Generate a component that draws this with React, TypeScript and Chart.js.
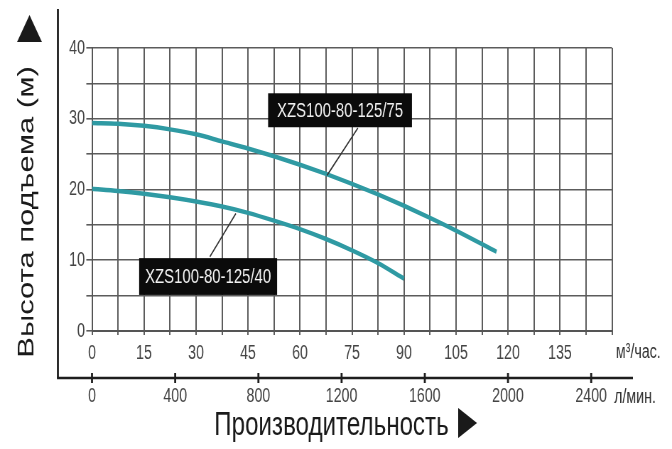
import { useEffect, useRef } from 'react';
import { Chart, registerables } from 'chart.js';

Chart.register(...registerables);

// ---- data ----
const flow75 = [0, 7.5, 15, 22.5, 30, 37.5, 45, 52.5, 60, 67.5, 75, 82.5, 90, 97.5, 105, 116.7];
const head75 = [29.4, 29.3, 29.0, 28.5, 27.8, 26.8, 25.8, 24.7, 23.5, 22.2, 20.8, 19.3, 17.7, 16.0, 14.2, 11.2];
const flow40 = [0, 7.5, 15, 22.5, 30, 37.5, 45, 52.5, 60, 67.5, 75, 82.5, 90];
const head40 = [20.1, 19.8, 19.4, 18.9, 18.3, 17.6, 16.7, 15.6, 14.4, 13.0, 11.4, 9.6, 7.4];
const seriesNames = ['XZS100-80-125/75', 'XZS100-80-125/40'];
const lMinTicks = [0, 400, 800, 1200, 1600, 2000, 2400];
const yTitle = 'Высота подъема (м)';
const xTitle = 'Производительность';
const unitM3 = 'м³/час.';
const unitLmin = 'л/мин.';
const xMaxM3h = 150;
const lPerMinPerM3h = 1000 / 60;

// ---- layout / style (not data) ----
const W = 946;
const H = 449;
const S = 672 / W;
const FONT = '"Liberation Sans", Arial, sans-serif';
const CURVE = '#2f9aa3';
const GRID = '#5c5c5c';

const annotations = [
  { text: seriesNames[0], box: [50.8, 92.3, 33.6, 28.8], lead: [76.7, 28.7], tip: [67.8, 22.0] },
  { text: seriesNames[1], box: [13.6, 53.4, 10.3, 5.1], lead: [34.0, 10.5], tip: [41.5, 16.6] },
];

const decorPlugin = {
  id: 'decor',
  afterDatasetsDraw(chart: any) {
    const { ctx, scales } = chart;
    const x = scales.x;
    const y = scales.y;
    ctx.save();
    for (const a of annotations) {
      ctx.strokeStyle = '#333';
      ctx.lineWidth = 1.6;
      ctx.beginPath();
      ctx.moveTo(x.getPixelForValue(a.lead[0]), y.getPixelForValue(a.lead[1]));
      ctx.lineTo(x.getPixelForValue(a.tip[0]), y.getPixelForValue(a.tip[1]));
      ctx.stroke();
      const l = x.getPixelForValue(a.box[0]);
      const r = x.getPixelForValue(a.box[1]);
      const t = y.getPixelForValue(a.box[2]);
      const b = y.getPixelForValue(a.box[3]);
      ctx.fillStyle = '#0b0b0b';
      ctx.fillRect(l, t, r - l, b - t);
      ctx.fillStyle = '#f2f2f2';
      ctx.font = '21px ' + FONT;
      ctx.textAlign = 'center';
      ctx.textBaseline = 'middle';
      ctx.fillText(a.text, (l + r) / 2, (t + b) / 2 + 1);
    }
    ctx.restore();
  },
  afterDraw(chart: any) {
    const { ctx, chartArea, scales } = chart;
    const x2 = scales.x2;
    ctx.save();
    const frameLeft = chartArea.left - 48;
    const frameRight = chartArea.right + 29.5;
    const baseY = x2.top;
    ctx.strokeStyle = '#1e1e1e';
    // left vertical frame line
    ctx.lineWidth = 2.8;
    ctx.beginPath();
    ctx.moveTo(frameLeft, 9);
    ctx.lineTo(frameLeft, baseY);
    ctx.stroke();
    // bottom (л/мин) axis line
    ctx.lineWidth = 2.6;
    ctx.beginPath();
    ctx.moveTo(frameLeft - 1.4, baseY);
    ctx.lineTo(frameRight, baseY);
    ctx.stroke();
    // tick marks on л/мин axis
    ctx.lineWidth = 2.8;
    for (const t of x2.ticks) {
      const px = x2.getPixelForValue(t.value);
      ctx.beginPath();
      ctx.moveTo(px, baseY - 5);
      ctx.lineTo(px, baseY + 5);
      ctx.stroke();
    }
    // unit labels
    ctx.fillStyle = '#333';
    ctx.font = '20px ' + FONT;
    ctx.textAlign = 'left';
    ctx.textBaseline = 'alphabetic';
    ctx.fillText(unitM3, chartArea.right + 5.5, 358);
    ctx.fillText(unitLmin, chartArea.right + 3, 403);
    // x title
    ctx.fillStyle = '#1a1a1a';
    ctx.font = '34px ' + FONT;
    ctx.textAlign = 'center';
    ctx.fillText(xTitle, 466.6, 435);
    // right triangle
    ctx.beginPath();
    ctx.moveTo(645, 408);
    ctx.lineTo(645, 438);
    ctx.lineTo(671.5, 423);
    ctx.closePath();
    ctx.fill();
    // y title (rotated)
    ctx.save();
    ctx.translate(46.5, 212);
    ctx.rotate(-Math.PI / 2);
    ctx.font = '31px ' + FONT;
    ctx.textAlign = 'center';
    ctx.textBaseline = 'alphabetic';
    ctx.fillText(yTitle, 0, 0);
    ctx.restore();
    // up triangle
    ctx.beginPath();
    ctx.moveTo(41.5, 15);
    ctx.lineTo(59, 42);
    ctx.lineTo(24, 42);
    ctx.closePath();
    ctx.fill();
    ctx.restore();
  },
};

function App() {
  const ref = useRef<HTMLCanvasElement | null>(null);
  useEffect(() => {
    if (!ref.current) return;
    const chart = new Chart(ref.current, {
      type: 'line',
      data: {
        datasets: [
          {
            label: seriesNames[0],
            data: flow75.map((v, i) => ({ x: v, y: head75[i] })),
            borderColor: CURVE,
            borderWidth: 4.5,
            pointRadius: 0,
            fill: false,
            cubicInterpolationMode: 'monotone',
          },
          {
            label: seriesNames[1],
            data: flow40.map((v, i) => ({ x: v, y: head40[i] })),
            borderColor: CURVE,
            borderWidth: 4.5,
            pointRadius: 0,
            fill: false,
            cubicInterpolationMode: 'monotone',
          },
        ],
      },
      options: {
        animation: false,
        responsive: true,
        maintainAspectRatio: false,
        devicePixelRatio: 1,
        layout: { padding: { left: 0, top: 48, right: 84.5, bottom: 35 } },
        plugins: { legend: { display: false }, tooltip: { enabled: false } },
        scales: {
          x: {
            type: 'linear',
            position: 'bottom',
            weight: 0,
            min: 0,
            max: xMaxM3h,
            afterFit: (s: any) => {
              s.height = 47;
            },
            ticks: {
              stepSize: 7.5,
              autoSkip: false,
              maxRotation: 0,
              padding: 6,
              color: '#444',
              font: { family: FONT, size: 20 },
              callback: (v: any) => {
                const n = Number(v);
                const k = n / 15;
                return Math.abs(k - Math.round(k)) < 1e-6 && n < xMaxM3h - 1 ? String(Math.round(n)) : '';
              },
            },
            grid: { color: GRID, lineWidth: 2, tickLength: 4, drawTicks: true },
            border: { color: '#555', width: 2 },
          },
          x2: {
            type: 'linear',
            position: 'bottom',
            weight: 1,
            min: 0,
            max: xMaxM3h * lPerMinPerM3h,
            afterFit: (s: any) => {
              s.height = 36;
            },
            afterBuildTicks: (s: any) => {
              s.ticks = lMinTicks.map((v) => ({ value: v }));
            },
            ticks: {
              autoSkip: false,
              maxRotation: 0,
              padding: 6,
              color: '#444',
              font: { family: FONT, size: 20 },
              callback: (v: any) => String(v),
            },
            grid: { display: true, drawOnChartArea: false, drawTicks: false, color: 'rgba(0,0,0,0)' },
            border: { display: false },
          },
          y: {
            type: 'linear',
            min: 0,
            max: 40,
            afterFit: (s: any) => {
              s.width = 129.5;
            },
            ticks: {
              stepSize: 5,
              padding: 2,
              color: '#444',
              font: { family: FONT, size: 20 },
              callback: (v: any) => (Number(v) % 10 === 0 ? String(v) : ''),
            },
            grid: { color: GRID, lineWidth: 1.6, tickLength: 8 },
            border: { color: '#555', width: 2 },
          },
        },
      },
      plugins: [decorPlugin],
    } as any);
    return () => chart.destroy();
  }, []);

  return (
    <div style={{ position: 'fixed', left: 0, top: 0, width: 672, height: H, overflow: 'hidden', background: '#fff' }}>
      <div
        style={{
          position: 'absolute',
          left: 0,
          top: 0,
          width: W,
          height: H,
          transform: `scaleX(${S})`,
          transformOrigin: '0 0',
        }}
      >
        <canvas ref={ref} />
      </div>
    </div>
  );
}

export default App;
